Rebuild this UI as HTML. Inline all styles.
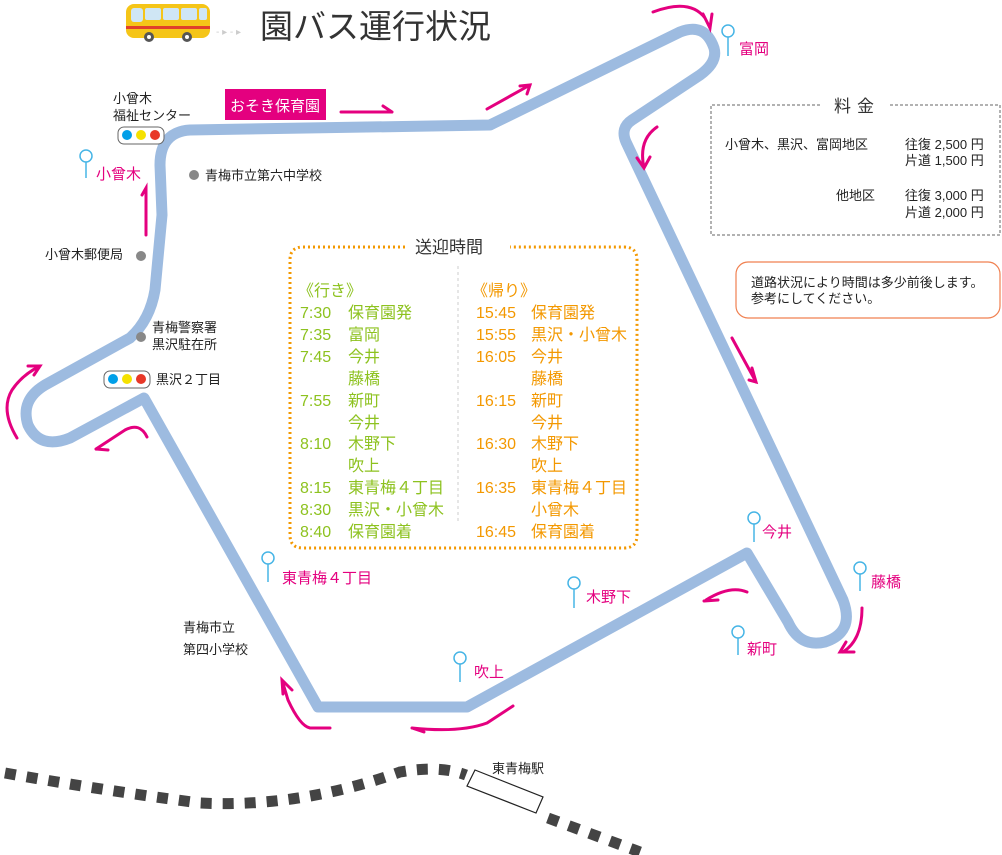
<!DOCTYPE html>
<html><head><meta charset="utf-8">
<style>
html,body{margin:0;padding:0;background:#fff;}
svg{display:block;}
text{font-family:"Liberation Sans","Noto Sans CJK JP",sans-serif;}
</style></head>
<body>
<svg width="1002" height="855" viewBox="0 0 1002 855" xmlns="http://www.w3.org/2000/svg">
<!-- bus icon -->
<g>
<rect x="126" y="4" width="84" height="34" rx="8" fill="#f5c518"/>
<rect x="131" y="8" width="12" height="14" rx="3" fill="#cfe6f5"/>
<rect x="145" y="8" width="16" height="12" rx="2" fill="#cfe6f5"/>
<rect x="163" y="8" width="16" height="12" rx="2" fill="#cfe6f5"/>
<rect x="181" y="8" width="16" height="12" rx="2" fill="#cfe6f5"/>
<rect x="199" y="8" width="8" height="12" rx="2" fill="#cfe6f5"/>
<rect x="126" y="26" width="84" height="3" fill="#e0402a"/>
<circle cx="149" cy="37" r="5" fill="#555"/><circle cx="149" cy="37" r="2" fill="#fff"/>
<circle cx="187" cy="37" r="5" fill="#555"/><circle cx="187" cy="37" r="2" fill="#fff"/>
<text x="216" y="35" font-size="10" fill="#ccc">- ▸ - ▸</text>
</g>
<text x="260" y="38" font-size="33" fill="#333">園バス運行状況</text>

<!-- route -->
<path d="M190,130 L490,125 L680,32 Q705,22 714,48 Q718,62 700,75 L632,120 Q620,128 626,142 L843,600 Q855,632 825,642 Q800,648 788,622 L747,553 L467,707 L318,707 L144,398 L70,438 Q40,450 28,425 Q20,400 45,385 L130,338 Q150,320 155,290 L162,215 L160,165 Q160,132 190,130 Z"
 fill="none" stroke="#9dbbe0" stroke-width="11" stroke-linejoin="round"/>

<!-- magenta arrows -->
<g fill="none" stroke="#e4007f" stroke-width="3" stroke-linecap="round">
<path d="M341,112 L392,112 M383,106 L392,112"/>
<path d="M487,109 L530,85 M520,86 L530,85 L527,94"/>
<path d="M653,12 Q690,-2 705,18 L710,28 M703,14 L710,28 L712,14"/>
<path d="M657,127 Q638,140 644,168 M637,158 L644,168 L650,157"/>
<path d="M732,338 L756,382 M752,368 L756,382 L749,380"/>
<path d="M862,608 Q862,640 843,652 M854,652 L840,652 L846,642"/>
<path d="M747,592 Q730,585 706,600 M718,600 L704,601"/>
<path d="M513,706 L487,723 Q460,733 412,728 M424,732 L412,728"/>
<path d="M330,728 L310,728 Q300,726 288,700 L282,680 M283,694 L282,680 L292,690"/>
<path d="M147,437 Q140,422 125,430 L96,449 M108,450 L96,449"/>
<path d="M17,438 Q0,410 12,390 Q22,375 40,366 M28,366 L40,366 L34,375"/>
<path d="M146,235 L146,188 L142,195"/>
</g>

<!-- stop pins -->
<g fill="none" stroke="#47b5e6" stroke-width="1.5">
<circle cx="86" cy="156" r="6"/><line x1="86" y1="162" x2="86" y2="178"/>
<circle cx="728" cy="31" r="6"/><line x1="728" y1="37" x2="728" y2="56"/>
<circle cx="754" cy="518" r="6"/><line x1="754" y1="524" x2="754" y2="542"/>
<circle cx="860" cy="568" r="6"/><line x1="860" y1="574" x2="860" y2="591"/>
<circle cx="738" cy="632" r="6"/><line x1="738" y1="638" x2="738" y2="655"/>
<circle cx="574" cy="583" r="6"/><line x1="574" y1="589" x2="574" y2="608"/>
<circle cx="460" cy="658" r="6"/><line x1="460" y1="664" x2="460" y2="682"/>
<circle cx="268" cy="558" r="6"/><line x1="268" y1="564" x2="268" y2="582"/>
</g>
<g font-size="15" fill="#e4007f">
<text x="96" y="179">小曾木</text>
<text x="739" y="54">富岡</text>
<text x="762" y="537">今井</text>
<text x="871" y="587">藤橋</text>
<text x="747" y="654">新町</text>
<text x="586" y="602">木野下</text>
<text x="474" y="677">吹上</text>
<text x="282" y="583">東青梅４丁目</text>
</g>

<!-- おそき保育園 -->
<rect x="225" y="89" width="101" height="31" fill="#e4007f"/>
<text x="230" y="111" font-size="15" fill="#fff">おそき保育園</text>

<!-- black labels -->
<g font-size="13" fill="#222">
<text x="113" y="103">小曾木</text>
<text x="113" y="120">福祉センター</text>
<text x="205" y="180">青梅市立第六中学校</text>
<text x="45" y="259">小曾木郵便局</text>
<text x="152" y="332">青梅警察署</text>
<text x="152" y="349">黒沢駐在所</text>
<text x="156" y="384">黒沢２丁目</text>
<text x="183" y="632">青梅市立</text>
<text x="183" y="654">第四小学校</text>
<text x="492" y="773">東青梅駅</text>
</g>
<g fill="#888">
<circle cx="194" cy="175" r="5"/><circle cx="141" cy="256" r="5"/><circle cx="141" cy="337" r="5"/>
</g>
<!-- signals -->
<rect x="118" y="127" width="46" height="17" rx="6" fill="#fff" stroke="#666"/>
<circle cx="127" cy="135" r="5" fill="#009fe8"/><circle cx="141" cy="135" r="5" fill="#f5e100"/><circle cx="155" cy="135" r="5" fill="#e83828"/>
<rect x="104" y="371" width="46" height="17" rx="6" fill="#fff" stroke="#666"/>
<circle cx="113" cy="379" r="5" fill="#009fe8"/><circle cx="127" cy="379" r="5" fill="#f5e100"/><circle cx="141" cy="379" r="5" fill="#e83828"/>

<!-- timetable box -->
<path d="M405,247 L303,247 Q290,247 290,260 L290,535 Q290,548 303,548 L624,548 Q637,548 637,535 L637,260 Q637,247 624,247 L510,247"
 fill="none" stroke="#f39800" stroke-width="3" stroke-dasharray="2,3"/>
<text x="415" y="253" font-size="17" fill="#333">送迎時間</text>
<line x1="458" y1="266" x2="458" y2="522" stroke="#ccc" stroke-width="1" stroke-dasharray="3,3"/>
<g font-size="16" fill="#8dc21f">
<text x="298" y="296">《行き》</text>
<text x="300" y="318">7:30</text><text x="348" y="318">保育園発</text>
<text x="300" y="340">7:35</text><text x="348" y="340">富岡</text>
<text x="300" y="362">7:45</text><text x="348" y="362">今井</text>
<text x="348" y="384">藤橋</text>
<text x="300" y="406">7:55</text><text x="348" y="406">新町</text>
<text x="348" y="428">今井</text>
<text x="300" y="449">8:10</text><text x="348" y="449">木野下</text>
<text x="348" y="471">吹上</text>
<text x="300" y="493">8:15</text><text x="348" y="493">東青梅４丁目</text>
<text x="300" y="515">8:30</text><text x="348" y="515">黒沢・小曾木</text>
<text x="300" y="537">8:40</text><text x="348" y="537">保育園着</text>
</g>
<g font-size="16" fill="#f39800">
<text x="472" y="296">《帰り》</text>
<text x="476" y="318">15:45</text><text x="531" y="318">保育園発</text>
<text x="476" y="340">15:55</text><text x="531" y="340">黒沢・小曾木</text>
<text x="476" y="362">16:05</text><text x="531" y="362">今井</text>
<text x="531" y="384">藤橋</text>
<text x="476" y="406">16:15</text><text x="531" y="406">新町</text>
<text x="531" y="428">今井</text>
<text x="476" y="449">16:30</text><text x="531" y="449">木野下</text>
<text x="531" y="471">吹上</text>
<text x="476" y="493">16:35</text><text x="531" y="493">東青梅４丁目</text>
<text x="531" y="515">小曾木</text>
<text x="476" y="537">16:45</text><text x="531" y="537">保育園着</text>
</g>

<!-- fare box -->
<path d="M820,105 L711,105 L711,235 L1000,235 L1000,105 L890,105" fill="none" stroke="#999" stroke-width="1.5" stroke-dasharray="3,2"/>
<text x="834" y="112" font-size="17" fill="#333" letter-spacing="6">料金</text>
<g font-size="13" fill="#222">
<text x="725" y="149">小曾木、黒沢、富岡地区</text>
<text x="905" y="149">往復 2,500 円</text>
<text x="905" y="165">片道 1,500 円</text>
<text x="836" y="200">他地区</text>
<text x="905" y="200">往復 3,000 円</text>
<text x="905" y="217">片道 2,000 円</text>
</g>

<!-- notice -->
<rect x="736" y="262" width="264" height="56" rx="12" fill="#fff" stroke="#f08050" stroke-width="1.2"/>
<g font-size="13" fill="#222">
<text x="751" y="287">道路状況により時間は多少前後します。</text>
<text x="751" y="303">参考にしてください。</text>
</g>

<!-- railway -->
<path d="M5,773 Q100,790 200,803 Q300,808 400,772 Q440,765 466,775" fill="none" stroke="#444" stroke-width="11" stroke-dasharray="11,11"/>
<path d="M548,818 L640,852" fill="none" stroke="#444" stroke-width="11" stroke-dasharray="11,11"/>
<polygon points="475,770 543,797 536,813 467,786" fill="#fff" stroke="#222" stroke-width="1.2"/>
</svg>
</body></html>
